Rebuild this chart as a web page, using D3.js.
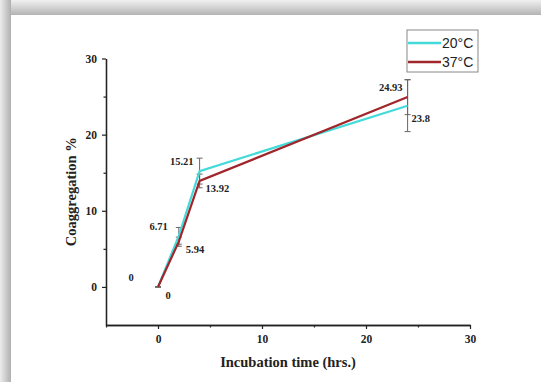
<!DOCTYPE html>
<html>
<head>
<meta charset="utf-8">
<script src="https://cdn.jsdelivr.net/npm/d3@7"></script>
<style>
  html, body { margin: 0; padding: 0; background: #fff; }
  svg { display: block; }
</style>
</head>
<body>
<div id="chart"></div>
<script>
// data
const times = [0, 2, 4, 24];
const seriesNames = ["20°C", "37°C"];
const values20 = [0, 6.71, 15.21, 23.8];
const values37 = [0, 5.94, 13.92, 24.93];
const errors20 = [0, 1.1, 1.7, 3.4];
const errors37 = [0, 0.6, 0.9, 2.3];
const labels20 = ["0", "6.71", "15.21", "23.8"];
const labels37 = ["0", "5.94", "13.92", "24.93"];
const xTicks = [0, 10, 20, 30];
const yTicks = [0, 10, 20, 30];

const width = 541, height = 382;
const colors = ["#45dada", "#a0262b"];

const svg = d3.select("#chart").append("svg").attr("width", width).attr("height", height);

// grey shadow frame on top and left
const defs = svg.append("defs");
const gTop = defs.append("linearGradient").attr("id", "gTop").attr("x1", 0).attr("y1", 0).attr("x2", 0).attr("y2", 1);
gTop.append("stop").attr("offset", "0%").attr("stop-color", "#f0f0f0");
gTop.append("stop").attr("offset", "100%").attr("stop-color", "#b4b4b4");
const gLeft = defs.append("linearGradient").attr("id", "gLeft").attr("x1", 0).attr("y1", 0).attr("x2", 1).attr("y2", 0);
gLeft.append("stop").attr("offset", "0%").attr("stop-color", "#ececec");
gLeft.append("stop").attr("offset", "100%").attr("stop-color", "#b0b0b0");
svg.append("rect").attr("x", 0).attr("y", 0).attr("width", width).attr("height", 15).attr("fill", "url(#gTop)");
svg.append("rect").attr("x", 0).attr("y", 0).attr("width", 11).attr("height", height).attr("fill", "url(#gLeft)");

const x = d3.scaleLinear().domain([-5, 30]).range([106, 470]);
const y = d3.scaleLinear().domain([-5, 30]).range([325, 58.5]);

const serif = "'Liberation Serif', 'Times New Roman', serif";

// axes
svg.append("g").attr("transform", `translate(0,${y(-5)})`)
  .call(d3.axisBottom(x).tickValues(xTicks).tickSize(4).tickSizeOuter(0).tickPadding(6).tickFormat(d3.format("d")));
svg.append("g").attr("transform", `translate(0,${y(-5)})`)
  .call(d3.axisBottom(x).tickValues([-5, 5, 15, 25]).tickSize(2.5).tickSizeOuter(0).tickFormat(""));
svg.append("g").attr("transform", `translate(${x(-5)},0)`)
  .call(d3.axisLeft(y).tickValues(yTicks).tickSize(4).tickSizeOuter(0).tickPadding(5).tickFormat(d3.format("d")));
svg.append("g").attr("transform", `translate(${x(-5)},0)`)
  .call(d3.axisLeft(y).tickValues([5, 15, 25]).tickSize(2.5).tickSizeOuter(0).tickFormat(""));

svg.selectAll(".domain").attr("stroke", "#222").attr("stroke-width", 1.3);
svg.selectAll(".tick line").attr("stroke", "#222").attr("stroke-width", 1.2);
svg.selectAll(".tick text")
  .attr("font-family", serif).attr("font-weight", "bold").attr("font-size", "11.5px").attr("fill", "#222");

// axis titles
svg.append("text")
  .attr("x", x(12.5)).attr("y", 367)
  .attr("text-anchor", "middle")
  .attr("font-family", serif).attr("font-weight", "bold").attr("font-size", "14.5px").attr("fill", "#222")
  .text("Incubation time (hrs.)");
svg.append("text")
  .attr("transform", `translate(76,${y(12.5)}) rotate(-90)`)
  .attr("text-anchor", "middle")
  .attr("font-family", serif).attr("font-weight", "bold").attr("font-size", "14.5px").attr("fill", "#222")
  .text("Coaggregation %");

const series = [
  { name: seriesNames[0], vals: values20, errs: errors20, labels: labels20, color: colors[0] },
  { name: seriesNames[1], vals: values37, errs: errors37, labels: labels37, color: colors[1] },
];

// error bars
series.forEach((s) => {
  const g = svg.append("g");
  times.forEach((t, i) => {
    const cx = x(t), top = y(s.vals[i] + s.errs[i]), bot = y(s.vals[i] - s.errs[i]);
    g.append("line").attr("x1", cx).attr("x2", cx).attr("y1", top).attr("y2", bot)
      .attr("stroke", "#666").attr("stroke-width", 1);
    [top, bot].forEach((yy) => {
      g.append("line").attr("x1", cx - 3).attr("x2", cx + 3).attr("y1", yy).attr("y2", yy)
        .attr("stroke", "#666").attr("stroke-width", 1);
    });
  });
});

// lines
const line = d3.line().x((d) => x(d[0])).y((d) => y(d[1]));
series.forEach((s) => {
  svg.append("path")
    .datum(times.map((t, i) => [t, s.vals[i]]))
    .attr("d", line)
    .attr("fill", "none")
    .attr("stroke", s.color)
    .attr("stroke-width", 2.2);
});

// value labels (offsets in px from each point)
const labelOffsets = [
  [[-27, -6, "middle"], [-11, -6, "end"], [-6, -6, "end"], [4, 16, "start"]],
  [[10, 12, "middle"], [7, 11, "start"], [6, 11, "start"], [-5, -6, "end"]],
];
series.forEach((s, si) => {
  times.forEach((t, i) => {
    const [dx, dy, anchor] = labelOffsets[si][i];
    svg.append("text")
      .attr("x", x(t) + dx).attr("y", y(s.vals[i]) + dy)
      .attr("text-anchor", anchor)
      .attr("font-family", serif).attr("font-weight", "bold").attr("font-size", "10.5px").attr("fill", "#222")
      .text(s.labels[i]);
  });
});

// legend
const legend = svg.append("g").attr("transform", "translate(407,30)");
legend.append("rect").attr("width", 71).attr("height", 42)
  .attr("fill", "#fff").attr("stroke", "#888").attr("stroke-width", 1);
series.forEach((s, i) => {
  const ly = 13 + i * 19;
  legend.append("line").attr("x1", 1).attr("x2", 34).attr("y1", ly).attr("y2", ly)
    .attr("stroke", s.color).attr("stroke-width", 2.5);
  legend.append("text").attr("x", 35).attr("y", ly + 5)
    .attr("font-family", "'Liberation Sans', Arial, sans-serif").attr("font-size", "14px").attr("fill", "#222")
    .text(s.name);
});
</script>
</body>
</html>
